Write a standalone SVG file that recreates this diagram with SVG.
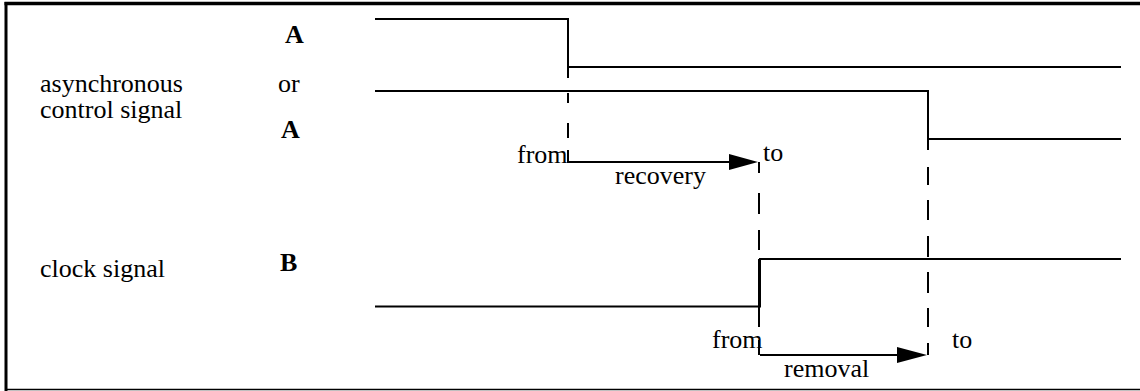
<svg xmlns="http://www.w3.org/2000/svg" width="1140" height="391" viewBox="0 0 1140 391">
<style>
text{font-family:"Liberation Serif","Times New Roman",serif;font-size:26px;fill:#000}
.b{font-weight:bold}
.sig{fill:none;stroke:#000;stroke-width:2}
.dash{fill:none;stroke:#000;stroke-width:2}
.frame{fill:none;stroke:#000}
</style>
<rect width="1140" height="391" fill="#fff"/>
<g id="frame">
<line class="frame" x1="4.5" y1="3.5" x2="1140" y2="3.5" stroke-width="3.5"/>
<line class="frame" x1="6" y1="2" x2="6" y2="391" stroke-width="3"/>
<line class="frame" x1="5" y1="389.5" x2="1140" y2="389.5" stroke-width="1.5"/>
</g>
<g id="labels">
<text x="40" y="92">asynchronous</text>
<text x="40" y="118">control signal</text>
<text x="40" y="277">clock signal</text>
<text class="b" x="285" y="43">A</text>
<text x="278" y="92">or</text>
<text class="b" x="281" y="138">A</text>
<text class="b" x="280" y="271">B</text>
</g>
<g id="signal-A">
<path class="sig" d="M375,19 H568 V67 H1121"/>
</g>
<g id="signal-A2">
<path class="sig" d="M375,91 H928 V139 H1121"/>
</g>
<g id="signal-B">
<path class="sig" d="M375,306.5 H760 V259 H1121"/>
</g>
<g id="connectors">
<path class="dash" d="M568,67 V78 M568,93 V103 M568,123 V138 M568,150 V163"/>
<path class="dash" d="M759,162 V173 M759,193 V214 M759,230 V250 M759,259 V327 M759,340 V355"/>
<path class="dash" d="M928,139 V150 M928,167 V185 M928,200 V220 M928,236 V257 M928,272 V293 M928,308 V327 M928,343 V355"/>
<g id="recovery">
<line class="sig" x1="568" y1="162" x2="732" y2="162"/>
<polygon points="729,154 758,162 729,170" fill="#000"/>
<text x="517" y="163">from</text>
<text x="763" y="161">to</text>
<text x="615" y="184">recovery</text>
</g>
<g id="removal">
<line class="sig" x1="760" y1="355" x2="900" y2="355"/>
<polygon points="897,347 927,355 897,363" fill="#000"/>
<text x="712" y="348">from</text>
<text x="952" y="348">to</text>
<text x="784" y="377">removal</text>
</g>
</g>
</svg>
